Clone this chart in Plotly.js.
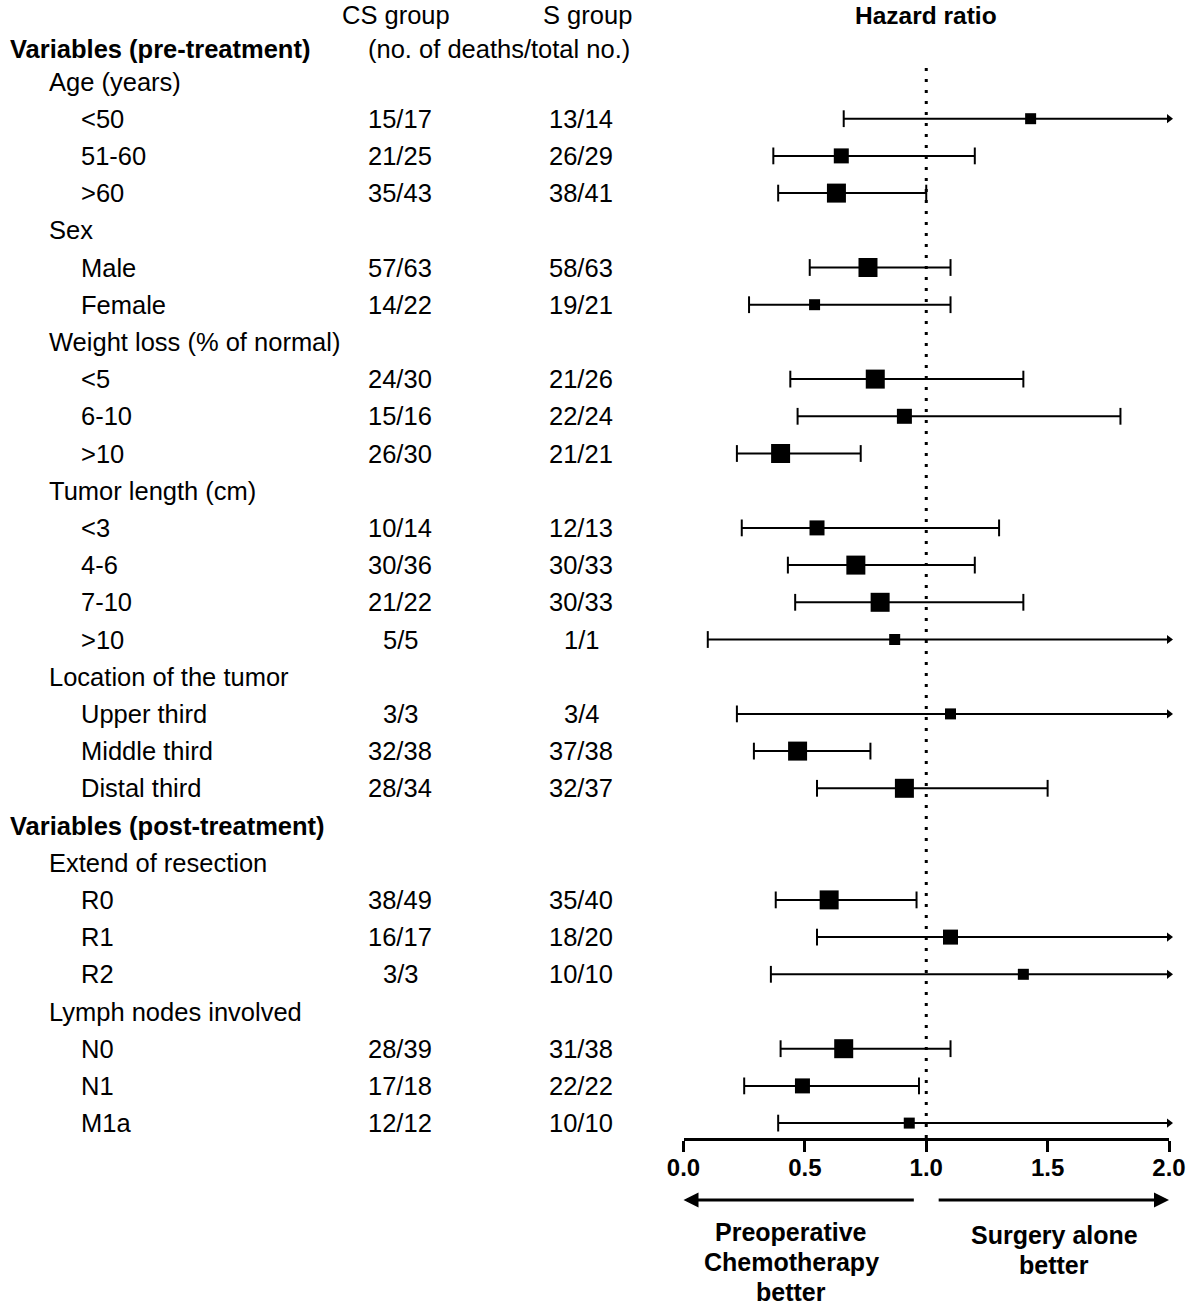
<!DOCTYPE html>
<html><head><meta charset="utf-8">
<script src="https://cdn.plot.ly/plotly-3.0.1.min.js"></script>
<style>html,body{margin:0;padding:0;background:#fff}#chart{width:1200px;height:1309px}</style>
</head><body><div id="chart"></div>
<script>
// ---------------- data ----------------
const rowLabels = ["Age (years)", "<50", "51-60", ">60", "Sex", "Male", "Female",
  "Weight loss (% of normal)", "<5", "6-10", ">10", "Tumor length (cm)", "<3", "4-6", "7-10", ">10",
  "Location of the tumor", "Upper third", "Middle third", "Distal third",
  "Variables (post-treatment)", "Extend of resection", "R0", "R1", "R2",
  "Lymph nodes involved", "N0", "N1", "M1a"];
const rowType = ["group", "item", "item", "item", "group", "item", "item",
  "group", "item", "item", "item", "group", "item", "item", "item", "item",
  "group", "item", "item", "item",
  "section", "group", "item", "item", "item",
  "group", "item", "item", "item"];
const csGroup = ["", "15/17", "21/25", "35/43", "", "57/63", "14/22",
  "", "24/30", "15/16", "26/30", "", "10/14", "30/36", "21/22", "5/5",
  "", "3/3", "32/38", "28/34",
  "", "", "38/49", "16/17", "3/3",
  "", "28/39", "17/18", "12/12"];
const sGroup = ["", "13/14", "26/29", "38/41", "", "58/63", "19/21",
  "", "21/26", "22/24", "21/21", "", "12/13", "30/33", "30/33", "1/1",
  "", "3/4", "37/38", "32/37",
  "", "", "35/40", "18/20", "10/10",
  "", "31/38", "22/22", "10/10"];
const hazardRatio = [null, 1.43, 0.65, 0.63, null, 0.76, 0.54,
  null, 0.79, 0.91, 0.40, null, 0.55, 0.71, 0.81, 0.87,
  null, 1.10, 0.47, 0.91,
  null, null, 0.60, 1.10, 1.40,
  null, 0.66, 0.49, 0.93];
const ciLower = [null, 0.66, 0.37, 0.39, null, 0.52, 0.27,
  null, 0.44, 0.47, 0.22, null, 0.24, 0.43, 0.46, 0.10,
  null, 0.22, 0.29, 0.55,
  null, null, 0.38, 0.55, 0.36,
  null, 0.40, 0.25, 0.39];
// Infinity = upper limit beyond the drawn scale (arrow)
const ciUpper = [null, Infinity, 1.20, 1.00, null, 1.10, 1.10,
  null, 1.40, 1.80, 0.73, null, 1.30, 1.20, 1.40, Infinity,
  null, Infinity, 0.77, 1.50,
  null, null, 0.96, Infinity, Infinity,
  null, 1.10, 0.97, Infinity];
// relative box weight class (1 small, 2 medium, 3 large)
const boxWeight = [null, 1, 2, 3, null, 3, 1,
  null, 3, 2, 3, null, 2, 3, 3, 1,
  null, 1, 3, 3,
  null, null, 3, 2, 1,
  null, 3, 2, 1];
const axisTicks = [0, 0.5, 1, 1.5, 2];
const axisTickLabels = ["0.0", "0.5", "1.0", "1.5", "2.0"];

// ---------------- layout constants ----------------
const W = 1200, H = 1309;
const X0PX = 683.5, X2PX = 1169;
const AXIS_Y = 1138;
const ROW0 = 81.5, ROWSTEP = 37.2;
const XMAX = 2;
const SANS = '"Liberation Sans", Arial, Helvetica, sans-serif';
const TXT = 25.5;
const py = p => 1 - p / H;
const px = p => p / W;
const sizeMap = {1: 11, 2: 15, 3: 19};

// ---------------- marks ----------------
const lx = [], ly = [], capX = [], capY = [], arrX = [], arrY = [], bx = [], by = [], bs = [];
hazardRatio.forEach((v, i) => {
  if (v == null) return;
  const hi = Math.min(ciUpper[i], XMAX);
  lx.push(ciLower[i], hi, null); ly.push(i, i, null);
  capX.push(ciLower[i]); capY.push(i);
  if (ciUpper[i] <= XMAX) { capX.push(ciUpper[i]); capY.push(i); }
  else { arrX.push(XMAX); arrY.push(i); }
  bx.push(v); by.push(i); bs.push(sizeMap[boxWeight[i]]);
});

const traces = [
  {type: 'scatter', mode: 'lines', x: lx, y: ly, line: {color: '#000', width: 2}, cliponaxis: false, hoverinfo: 'skip', opacity: 1},
  {type: 'scatter', mode: 'markers', x: capX, y: capY, cliponaxis: false, hoverinfo: 'skip', opacity: 1,
   marker: {symbol: 'line-ns', size: 12, opacity: 1, line: {color: '#000', width: 2}}},
  {type: 'scatter', mode: 'markers', x: arrX, y: arrY, cliponaxis: false, hoverinfo: 'skip', opacity: 1,
   marker: {symbol: 'triangle-right', size: 8, color: '#000', opacity: 1, line: {width: 0, color: '#000'}}},
  {type: 'scatter', mode: 'markers', x: bx, y: by, cliponaxis: false, hoverinfo: 'skip', opacity: 1,
   marker: {symbol: 'square', size: bs, color: '#000000', opacity: 1, line: {width: 0, color: '#000'}}}
];

// ---------------- annotations ----------------
const ann = [];
const labelX = {section: 8, group: 47, item: 79};
const tf = {family: SANS, size: TXT, color: '#000'};
rowLabels.forEach((t, i) => {
  const type = rowType[i];
  ann.push({xref: 'paper', yref: 'y', x: px(labelX[type]), y: i, text: type === 'section' ? '<b>' + t + '</b>' : t,
    showarrow: false, xanchor: 'left', yanchor: 'middle', font: tf});
  if (csGroup[i]) ann.push({xref: 'paper', yref: 'y', x: px(400), y: i, text: csGroup[i], showarrow: false,
    xanchor: 'center', yanchor: 'middle', font: tf});
  if (sGroup[i]) ann.push({xref: 'paper', yref: 'y', x: px(581), y: i, text: sGroup[i], showarrow: false,
    xanchor: 'center', yanchor: 'middle', font: tf});
});
// header texts
ann.push({xref: 'paper', yref: 'paper', x: px(396), y: py(15), text: 'CS group', showarrow: false, xanchor: 'center', yanchor: 'middle', font: tf});
ann.push({xref: 'paper', yref: 'paper', x: px(587), y: py(15), text: 'S group', showarrow: false, xanchor: 'center', yanchor: 'middle', font: tf});
ann.push({xref: 'paper', yref: 'paper', x: px(8), y: py(49), text: '<b>Variables (pre-treatment)</b>', showarrow: false, xanchor: 'left', yanchor: 'middle', font: tf});
ann.push({xref: 'paper', yref: 'paper', x: px(499), y: py(49), text: '(no. of deaths/total no.)', showarrow: false, xanchor: 'center', yanchor: 'middle', font: tf});
ann.push({xref: 'x', yref: 'paper', x: 1, y: py(15), text: '<b>Hazard ratio</b>', showarrow: false, xanchor: 'center', yanchor: 'middle', font: {family: SANS, size: 24.5, color: '#000'}});
// direction arrows
ann.push({xref: 'x', yref: 'paper', x: 0, y: py(1200), axref: 'x', ax: 0.955, ay: 0, text: '', showarrow: true,
  arrowhead: 2, arrowsize: 1, arrowwidth: 3, arrowcolor: '#000', standoff: 0});
ann.push({xref: 'x', yref: 'paper', x: 2, y: py(1200), axref: 'x', ax: 1.045, ay: 0, text: '', showarrow: true,
  arrowhead: 2, arrowsize: 1, arrowwidth: 3, arrowcolor: '#000', standoff: 0});
const bf = {family: SANS, size: 25, color: '#000'};
[['Preoperative', 1232], ['Chemotherapy', 1262], ['better', 1292]].forEach(([t, y]) =>
  ann.push({xref: 'paper', yref: 'paper', x: px(791), y: py(y), text: '<b>' + t + '</b>', showarrow: false,
    xanchor: 'center', yanchor: 'middle', font: bf}));
[['Surgery alone', 1235], ['better', 1265]].forEach(([t, y]) =>
  ann.push({xref: 'paper', yref: 'paper', x: px(1054), y: py(y), text: '<b>' + t + '</b>', showarrow: false,
    xanchor: 'center', yanchor: 'middle', font: bf}));

const layout = {
  width: W, height: H,
  margin: {l: 0, r: 0, t: 0, b: 0, pad: 0},
  paper_bgcolor: '#fff', plot_bgcolor: 'rgba(0,0,0,0)',
  showlegend: false,
  xaxis: {
    domain: [X0PX / W, X2PX / W], range: [0, XMAX], fixedrange: true,
    showline: true, linewidth: 3, linecolor: '#000', mirror: false,
    ticks: 'outside', ticklen: 11, tickwidth: 3, tickcolor: '#000',
    tickvals: axisTicks, ticktext: axisTickLabels, ticklabelstandoff: -5,
    tickfont: {family: SANS, size: 24, weight: 'bold', color: '#000'},
    showgrid: false, zeroline: false
  },
  yaxis: {
    domain: [1 - AXIS_Y / H, 1], range: [(AXIS_Y - ROW0) / ROWSTEP, -ROW0 / ROWSTEP],
    visible: false, fixedrange: true, showgrid: false, zeroline: false
  },
  shapes: [{type: 'line', layer: 'below', xref: 'x', yref: 'paper', x0: 1, x1: 1, y0: py(AXIS_Y), y1: py(66),
    line: {color: '#000', width: 3, dash: '3px,8px'}}],
  annotations: ann
};

Plotly.newPlot('chart', traces, layout, {staticPlot: true, displayModeBar: false});
</script>
</body></html>
